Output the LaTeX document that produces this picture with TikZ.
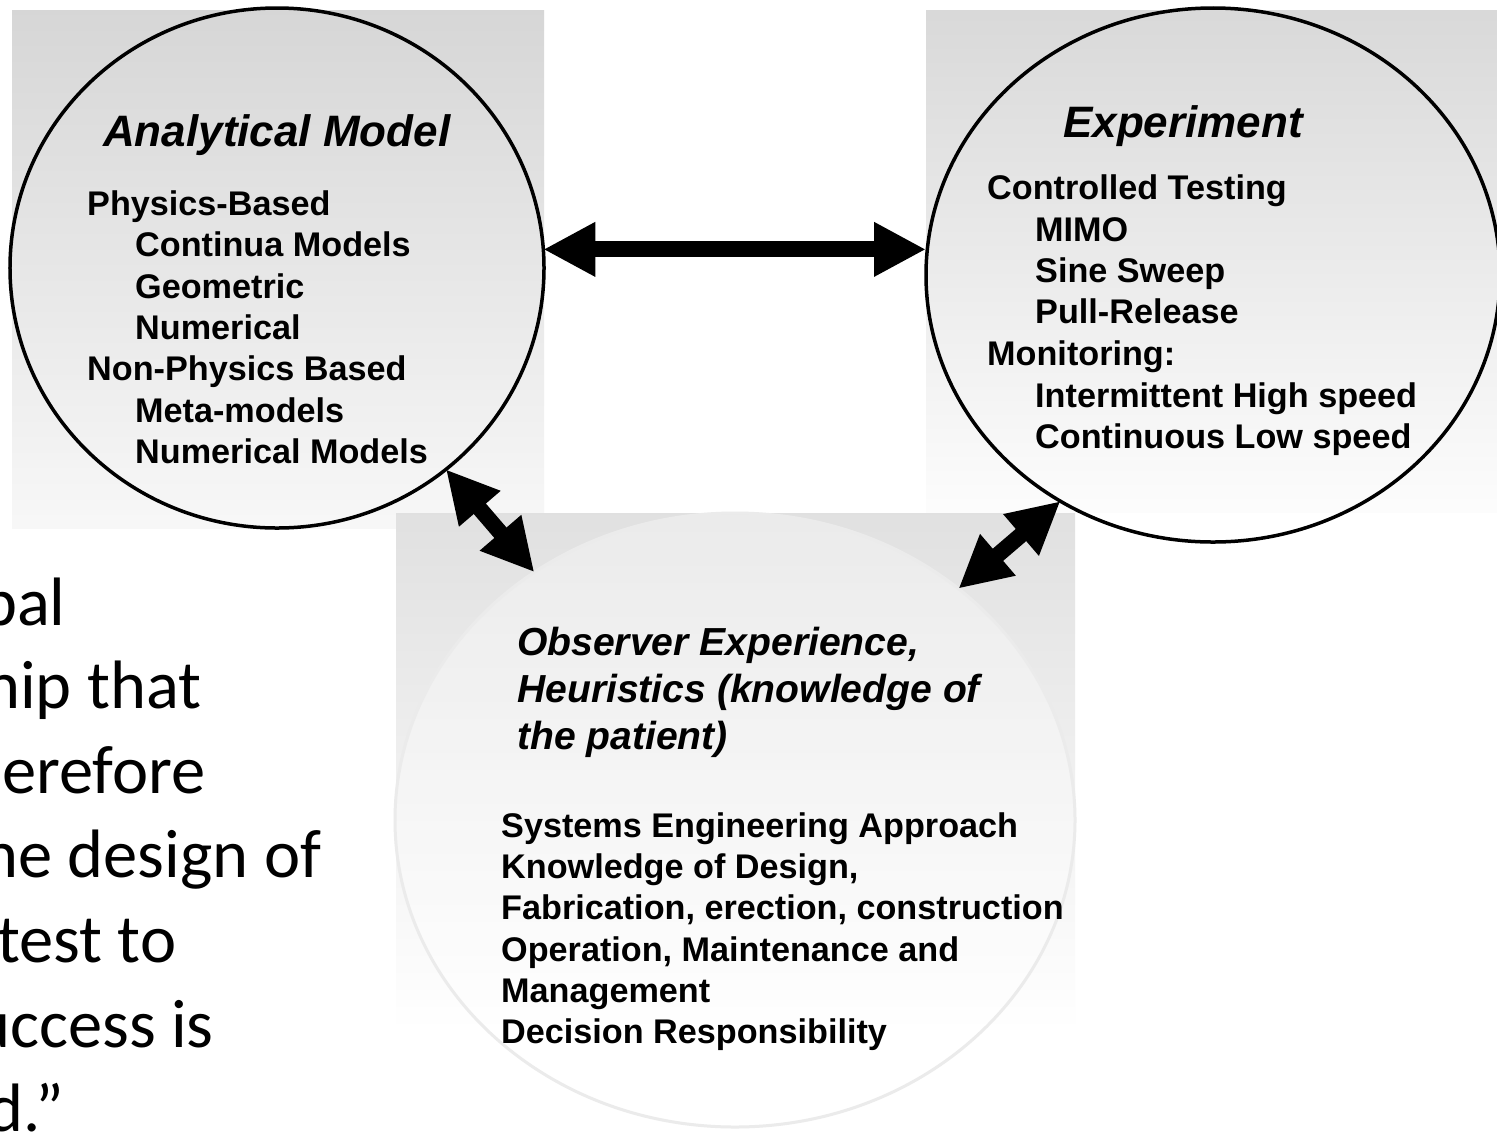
\documentclass[tikz,border=0pt]{standalone}
\usepackage{fontspec}
\setmainfont{Liberation Sans}
\newfontfamily\quotefont{Carlito}
\usetikzlibrary{shapes.geometric,arrows.meta}

\tikzset{
  ring/.style={ellipse, draw=black, line width=3.5bp, inner sep=0pt, outer sep=0pt},
  softring/.style={ellipse, draw=black!8, line width=3bp, fill=white, fill opacity=0.35,
                   draw opacity=1, inner sep=0pt, outer sep=0pt},
  itemtxt/.style={anchor=base west, inner sep=0pt, font=\fontsize{34.2bp}{41bp}\selectfont\bfseries},
  titletxt/.style={anchor=base west, inner sep=0pt, font=\fontsize{44bp}{52bp}\selectfont\bfseries\itshape},
  subtitletxt/.style={anchor=base west, inner sep=0pt, font=\fontsize{39.1bp}{47bp}\selectfont\bfseries\itshape},
  quotetxt/.style={anchor=base west, inner sep=0pt, font=\quotefont\fontsize{68.5bp}{84bp}\selectfont},
  biarrow/.style={line width=16bp, {Triangle[length=52bp,width=51bp]}-{Triangle[length=52bp,width=51bp]}},
}

\begin{document}
\begin{tikzpicture}[x=1bp, y=-1bp]
  \useasboundingbox (0,0) rectangle (1497,1135);
  \clip (0,0) rectangle (1497,1135);
  \fill[white] (0,0) rectangle (1497,1135);

  % shaded panels behind the three circles
  \shade[top color=black!16, bottom color=black!3] (12,10) rectangle (544,528);
  \shade[top color=black!15, bottom color=black!1] (926,10) rectangle (1497,512);
  \shade[top color=black!12, bottom color=white] (396,513) rectangle (1075,1032);

  % soft lower circle
  \node[softring, minimum width=680bp, minimum height=614bp] (ob) at (735,820) {};

  % outlined circles
  \node[ring, minimum width=534bp, minimum height=520bp] (am) at (277,268) {};
  \node[ring, minimum width=574bp, minimum height=534bp] (ex) at (1213,275) {};

  % Analytical Model
  \node[titletxt] (amt) at (103,146) {Analytical Model};
  \node[itemtxt] (am1) at (87,215) {Physics-Based};
  \node[itemtxt] (am2) at (135,256) {Continua Models};
  \node[itemtxt] (am3) at (135,298) {Geometric};
  \node[itemtxt] (am4) at (135,339) {Numerical};
  \node[itemtxt] (am5) at (87,380) {Non-Physics Based};
  \node[itemtxt] (am6) at (135,422) {Meta-models};
  \node[itemtxt] (am7) at (135,463) {Numerical Models};

  % Experiment
  \node[titletxt] (ext) at (1063,137) {Experiment};
  \node[itemtxt] (ex1) at (987,199) {Controlled Testing};
  \node[itemtxt] (ex2) at (1035,241) {MIMO};
  \node[itemtxt] (ex3) at (1035,282) {Sine Sweep};
  \node[itemtxt] (ex4) at (1035,323) {Pull-Release};
  \node[itemtxt] (ex5) at (987,365) {Monitoring:};
  \node[itemtxt] (ex6) at (1035,407) {Intermittent High speed};
  \node[itemtxt] (ex7) at (1035,448) {Continuous Low speed};

  % Observer experience
  \node[subtitletxt] (obt1) at (517,655) {Observer Experience,};
  \node[subtitletxt] (obt2) at (517,702) {Heuristics (knowledge of};
  \node[subtitletxt] (obt3) at (517,749) {the patient)};
  \node[itemtxt] (ob1) at (501,837) {Systems Engineering Approach};
  \node[itemtxt] (ob2) at (501,878) {Knowledge of Design,};
  \node[itemtxt] (ob3) at (501,919) {Fabrication, erection, construction};
  \node[itemtxt] (ob4) at (501,961) {Operation, Maintenance and};
  \node[itemtxt] (ob5) at (501,1002) {Management};
  \node[itemtxt] (ob6) at (501,1043) {Decision Responsibility};

  % quotation running off the left edge
  \node[quotetxt] (q1) at (-19,625) {bal};
  \node[quotetxt] (q2) at (-16,708) {hip that};
  \node[quotetxt] (q3) at (2,793) {erefore};
  \node[quotetxt] (q4) at (-18,877) {he design of};
  \node[quotetxt] (q5) at (-3,962) {test to};
  \node[quotetxt] (q6) at (-26,1047) {uccess is};
  \node[quotetxt] (q7) at (-13,1131) {d.”};

  % two-way links
  \coordinate (amr) at (am.4.5);
  \draw[biarrow] (amr) -- (amr -| ex.west);
  \draw[biarrow] (am.-50.4) -- (ob.129.6);
  \draw[biarrow] (ex.-124.9) -- (ob.46.5);
\end{tikzpicture}
\end{document}
